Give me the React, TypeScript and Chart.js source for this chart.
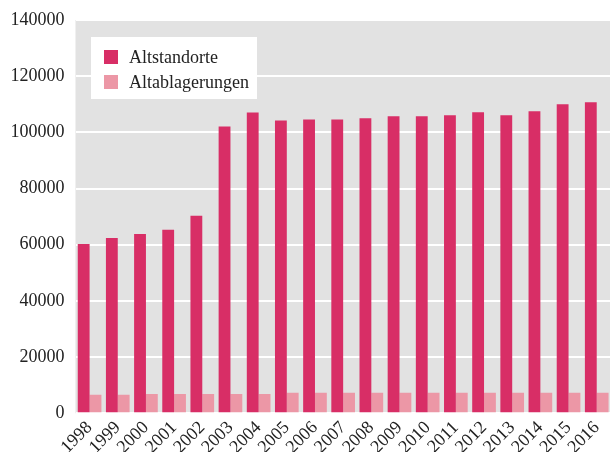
import React, { useEffect, useRef } from "react";
import { Chart, registerables } from "chart.js";

Chart.register(...registerables);

const years = ["1998","1999","2000","2001","2002","2003","2004","2005","2006","2007","2008","2009","2010","2011","2012","2013","2014","2015","2016"];
const altstandorte = [60300, 62400, 63800, 65300, 70300, 102100, 107100, 104200, 104600, 104600, 105000, 105700, 105700, 106100, 107200, 106100, 107500, 110000, 110700];
const altablagerungen = [6600, 6600, 6900, 6900, 6900, 6900, 6900, 7300, 7300, 7300, 7300, 7300, 7300, 7300, 7300, 7300, 7300, 7300, 7300];
const seriesNames = ["Altstandorte", "Altablagerungen"];
const seriesColors = ["#d82e66", "#ec97a6"];

const FONT = "'Liberation Serif', 'Times New Roman', serif";

const bgPlugin = {
  id: "plotBg",
  beforeDraw(chart: any) {
    const { ctx, chartArea } = chart;
    ctx.save();
    ctx.fillStyle = "#e2e2e2";
    ctx.fillRect(chartArea.left, chartArea.top, chartArea.right - chartArea.left, chartArea.bottom - chartArea.top);
    ctx.restore();
  },
};

const legendPlugin = {
  id: "innerLegend",
  afterDatasetsDraw(chart: any) {
    const { ctx, chartArea } = chart;
    const x0 = chartArea.left + 15.5;
    const y0 = chartArea.top + 17;
    ctx.save();
    ctx.fillStyle = "#ffffff";
    ctx.fillRect(x0, y0, 166, 62);
    ctx.font = "18px " + FONT;
    ctx.textBaseline = "middle";
    ctx.textAlign = "left";
    chart.data.datasets.forEach((ds: any, i: number) => {
      const cy = y0 + 20 + i * 25;
      ctx.fillStyle = ds.backgroundColor;
      ctx.fillRect(x0 + 13, cy - 7, 14, 14);
      ctx.fillStyle = "#222222";
      ctx.fillText(ds.label, x0 + 38, cy + 1);
    });
    ctx.restore();
  },
};

export default function App() {
  const ref = useRef<HTMLCanvasElement | null>(null);
  useEffect(() => {
    if (!ref.current) return;
    const chart = new Chart(ref.current, {
      type: "bar",
      data: {
        labels: years,
        datasets: [
          { label: seriesNames[0], data: altstandorte, backgroundColor: seriesColors[0] },
          { label: seriesNames[1], data: altablagerungen, backgroundColor: seriesColors[1] },
        ],
      },
      options: {
        animation: false,
        responsive: false,
        devicePixelRatio: 1,
        layout: { padding: { left: 7.5, top: 20, right: 0, bottom: -10 } },
        datasets: { bar: { categoryPercentage: 0.84, barPercentage: 1 } },
        plugins: { legend: { display: false }, tooltip: { enabled: false } },
        scales: {
          x: {
            grid: { display: false, drawTicks: false },
            border: { display: false },
            ticks: {
              autoSkip: false,
              minRotation: 45,
              maxRotation: 45,
              padding: 4,
              color: "#222222",
              font: { family: FONT, size: 18 },
            },
          },
          y: {
            min: 0,
            max: 140000,
            grid: { color: "#ffffff", lineWidth: 2, drawTicks: true, tickLength: 8, tickColor: "rgba(0,0,0,0)" },
            border: { display: false },
            ticks: {
              stepSize: 20000,
              padding: 3,
              color: "#222222",
              font: { family: FONT, size: 18 },
              callback: (v: any) => String(v),
            },
          },
        },
      },
      plugins: [bgPlugin, legendPlugin],
    });
    return () => chart.destroy();
  }, []);
  return (
    <div style={{ position: "absolute", left: 0, top: 0, width: 610, height: 452, overflow: "hidden" }}>
      <canvas ref={ref} width={616} height={452} style={{ width: 616, height: 452, display: "block" }} />
    </div>
  );
}
